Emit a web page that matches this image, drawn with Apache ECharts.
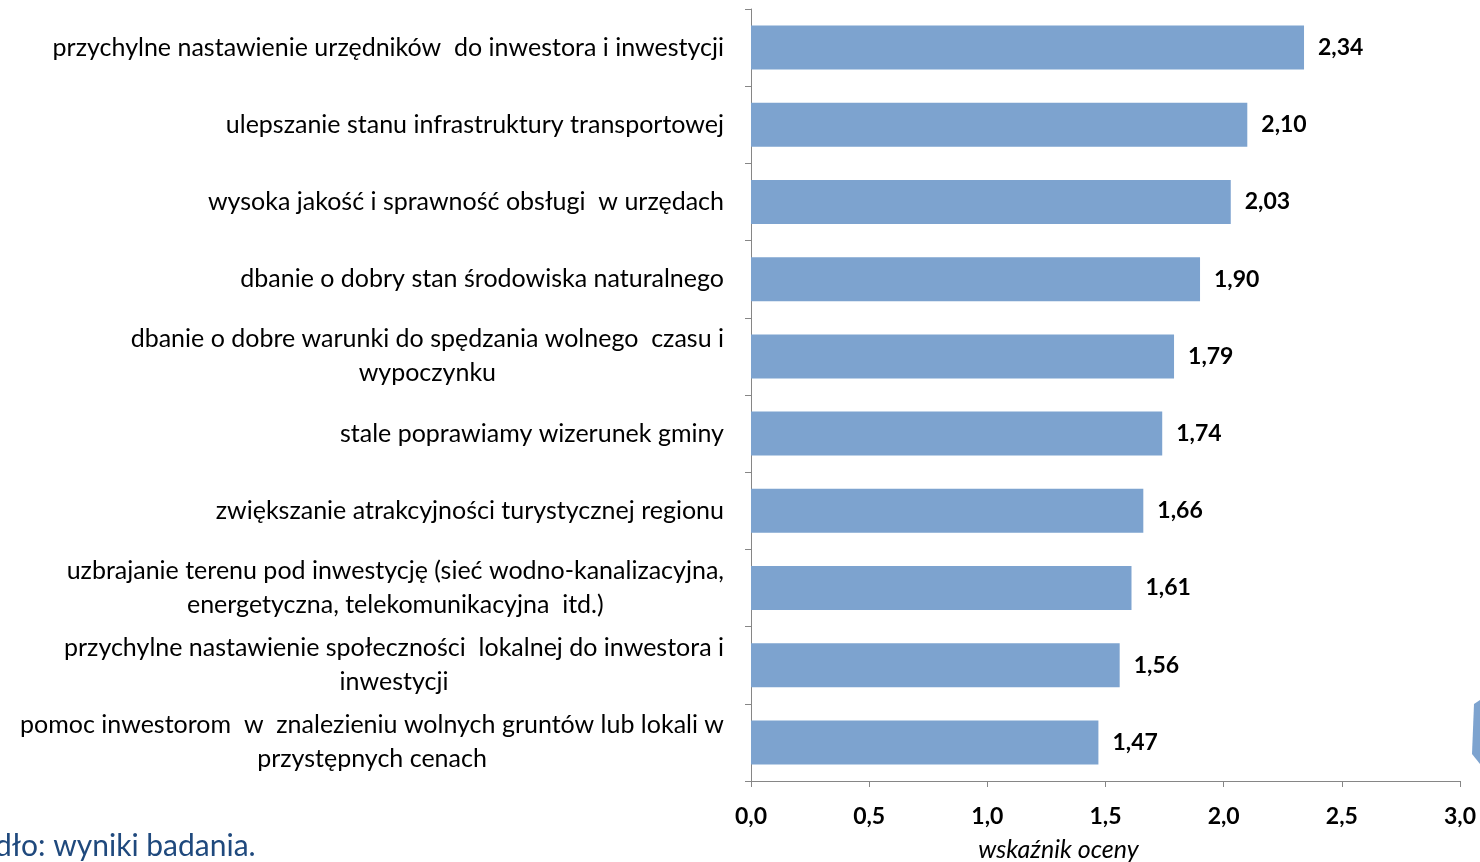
<!DOCTYPE html>
<html>
<head>
<meta charset="utf-8">
<script src="https://cdn.jsdelivr.net/npm/echarts@6/dist/echarts.min.js"></script>
<style>
  html, body { margin: 0; padding: 0; background: #fff; }
  #myChart { width: 1480px; height: 862px; }
</style>
</head>
<body>
<div id="myChart"></div>
<script>
// kategorie od góry do dołu (\n = złamanie wiersza jak w oryginale)
var categories = [
  'przychylne nastawienie urzędników  do inwestora i inwestycji',
  'ulepszanie stanu infrastruktury transportowej',
  'wysoka jakość i sprawność obsługi  w urzędach',
  'dbanie o dobry stan środowiska naturalnego',
  'dbanie o dobre warunki do spędzania wolnego  czasu i\nwypoczynku',
  'stale poprawiamy wizerunek gminy',
  'zwiększanie atrakcyjności turystycznej regionu',
  'uzbrajanie terenu pod inwestycję (sieć wodno-kanalizacyjna,\nenergetyczna, telekomunikacyjna  itd.)',
  'przychylne nastawienie społeczności  lokalnej do inwestora i\ninwestycji',
  'pomoc inwestorom  w  znalezieniu wolnych gruntów lub lokali w\nprzystępnych cenach'
];
var values = [2.34, 2.10, 2.03, 1.90, 1.79, 1.74, 1.66, 1.61, 1.56, 1.47];
var xTicks = [0, 0.5, 1, 1.5, 2, 2.5, 3];

var myChart = echarts.init(document.getElementById('myChart'));
var option = {
  animation: false,
  backgroundColor: '#fff',
  textStyle: { fontFamily: 'Lato' },
  grid: { left: 751, right: 20, top: 9, bottom: 81, containLabel: false, outerBoundsMode: 'none' },
  xAxis: {
    type: 'value',
    min: xTicks[0],
    max: xTicks[xTicks.length - 1],
    interval: 0.5,
    axisLine: { show: true, lineStyle: { color: '#868686', width: 1 } },
    axisTick: { show: true, inside: false, length: 6, lineStyle: { color: '#868686' } },
    splitLine: { show: false },
    axisLabel: {
      margin: 24,
      color: '#000',
      fontWeight: 'bold',
      fontSize: 23,
      fontFamily: 'Lato',
      formatter: function (v) { return v.toFixed(1).replace('.', ','); }
    },
    name: 'wskaźnik oceny',
    nameLocation: 'middle',
    nameGap: 56,
    nameTextStyle: {
      color: '#000',
      fontStyle: 'italic',
      fontSize: 25,
      fontFamily: 'Lato',
      padding: [0, 94, 0, 0]
    }
  },
  yAxis: {
    type: 'category',
    inverse: true,
    data: categories,
    axisLine: { show: true, lineStyle: { color: '#868686', width: 1 } },
    axisTick: { show: true, inside: false, length: 6, alignWithLabel: false, lineStyle: { color: '#868686' } },
    axisLabel: {
      margin: 27,
      color: '#000',
      fontSize: 25,
      fontFamily: 'Lato',
      lineHeight: 34,
      formatter: function (v) {
        return v.split('\n').map(function (s) { return '{c|' + s + '}'; }).join('\n');
      },
      rich: {
        c: { align: 'center', fontSize: 25, fontFamily: 'Lato', lineHeight: 34, color: '#000' }
      }
    }
  },
  series: [{
    type: 'bar',
    data: values,
    barCategoryGap: '43%',
    itemStyle: { color: '#7DA3CF' },
    label: {
      show: true,
      position: 'right',
      distance: 14,
      color: '#000',
      fontWeight: 'bold',
      fontSize: 23,
      fontFamily: 'Lato',
      formatter: function (p) { return p.value.toFixed(2).replace('.', ','); }
    }
  }],
  graphic: [{
    type: 'text',
    left: -50,
    top: 831,
    style: {
      text: 'Źródło: wyniki badania.',
      fill: '#1F497D',
      font: '30px Lato'
    }
  }, {
    type: 'polygon',
    shape: { points: [[1474, 704], [1480, 700], [1480, 764], [1472, 754]] },
    style: { fill: '#7DA3CF' }
  }]
};
myChart.setOption(option);
</script>
</body>
</html>
